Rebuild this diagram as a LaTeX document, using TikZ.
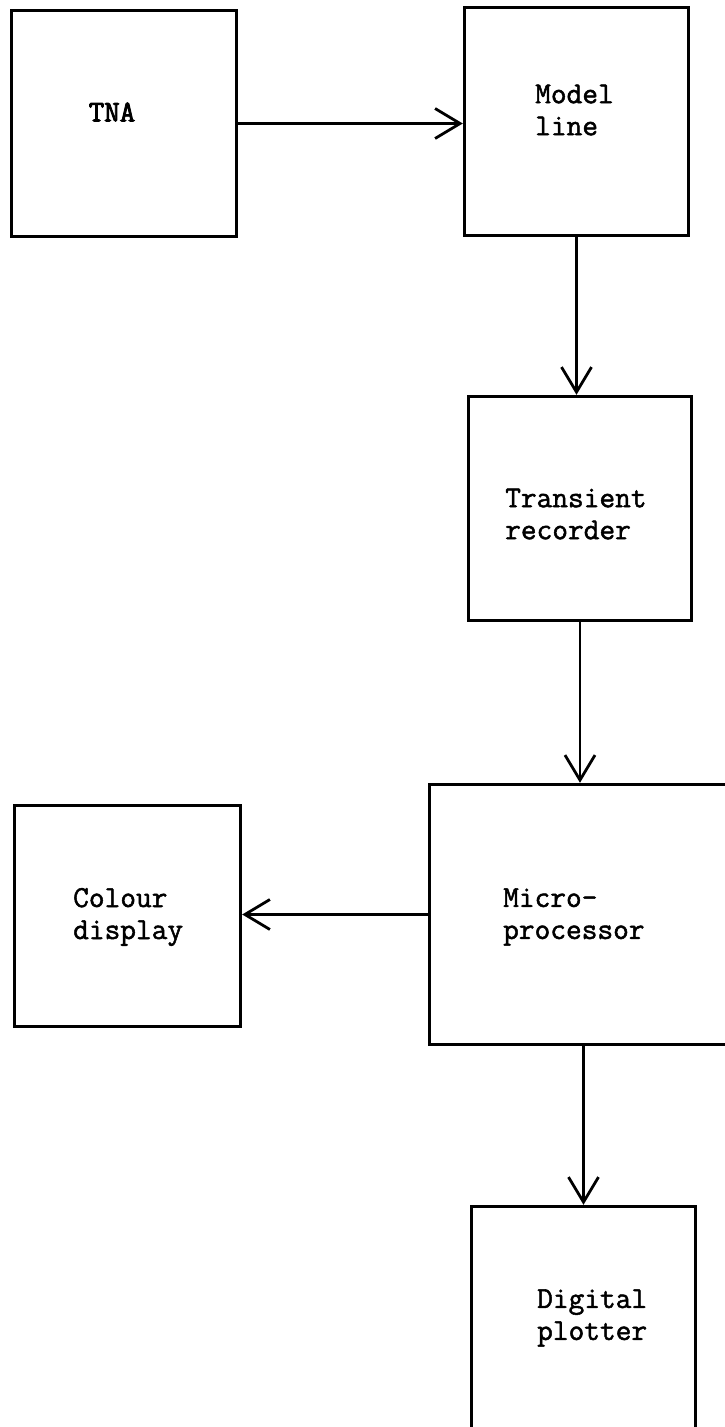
\documentclass[tikz,border=0pt]{standalone}
\usepackage{fontspec}
\newfontfamily\boxfont{Latin Modern Mono}[FakeBold=1.6]
\newfontfamily\boxfontb{Latin Modern Mono}[FakeBold=3]
\usetikzlibrary{arrows.meta}
\begin{document}
\begin{tikzpicture}[x=1pt,y=-1pt,
  blk/.style={draw=black,line width=3.4pt,rectangle,inner sep=0pt},
  lbl/.style={inner sep=0pt,align=left,anchor=west,font=\fontsize{30.5}{32}\selectfont\boxfont},
  conn/.style={line width=2.8pt,-{Straight Barb[length=25pt,width=30pt]}}]
\useasboundingbox (0,0) rectangle (725,1427);
\fill[white] (0,0) rectangle (725,1427);
% boxes
\node[blk,minimum width=225pt,minimum height=226pt] (tna) at (124,123.5) {};
\node[blk,minimum width=224pt,minimum height=228pt] (model) at (576.5,121.5) {};
\node[blk,minimum width=223pt,minimum height=224pt] (trans) at (580,508.5) {};
\node[blk,minimum width=304pt,minimum height=260pt] (micro) at (581.5,914.5) {};
\node[blk,minimum width=226pt,minimum height=221pt] (colour) at (127.5,916) {};
\node[blk,minimum width=224pt,minimum height=232pt] (digital) at (583.5,1322.5) {};
% labels
\node[lbl,anchor=center,font=\fontsize{30}{32}\selectfont\boxfontb] (tnaT) at (112,112) {TNA};
\node[lbl] (modelT) at (535,110) {Model\\line};
\node[lbl] (transT) at (505,514) {Transient\\recorder};
\node[lbl] (colourT) at (73,917) {Colour\\display};
\node[lbl] (microT) at (503,917) {Micro-\\processor};
\node[lbl] (digitalT) at (537,1318) {Digital\\plotter};
% connectors
\draw[conn] (tna.east) -- (tna.east -| model.west);
\draw[conn] (model.south) -- (model.south |- trans.north);
\draw[conn] (trans.south) -- (trans.south |- micro.north);
\draw[conn] (micro.west) -- (micro.west -| colour.east);
\draw[conn] (digital.north |- micro.south) -- (digital.north);
\end{tikzpicture}
\end{document}
